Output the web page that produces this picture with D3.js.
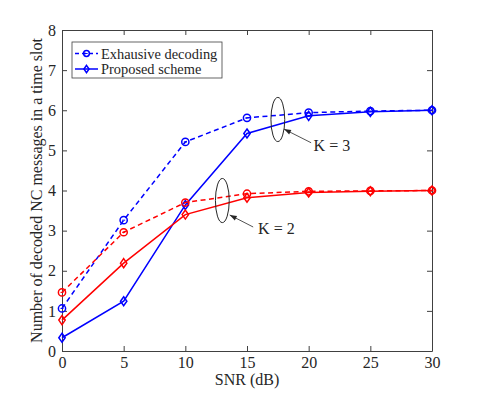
<!DOCTYPE html>
<html>
<head>
<meta charset="utf-8">
<script src="https://cdn.jsdelivr.net/npm/d3@7"></script>
<style>
  body { margin: 0; background: #fff; }
  svg text { font-family: "Liberation Serif", "Times New Roman", serif; fill: #262626; }
</style>
</head>
<body>
<div id="chart"></div>
<script>
// data
const snr = [0, 5, 10, 15, 20, 25, 30];
const exhK3 = [1.06, 3.26, 5.21, 5.81, 5.94, 5.98, 6.0];
const propK3 = [0.33, 1.24, 3.64, 5.42, 5.86, 5.96, 6.0];
const exhK2 = [1.46, 2.96, 3.70, 3.92, 3.98, 3.99, 4.0];
const propK2 = [0.77, 2.19, 3.40, 3.82, 3.95, 3.98, 4.0];
const xTicks = [0, 5, 10, 15, 20, 25, 30];
const yTicks = [0, 1, 2, 3, 4, 5, 6, 7, 8];

const width = 478, height = 395;
const margin = {top: 30, right: 46, bottom: 44, left: 62};
const fs = 16;

const svg = d3.select('#chart').append('svg')
    .attr('width', width)
    .attr('height', height);

const x = d3.scaleLinear().domain([0, 30]).range([margin.left, width - margin.right]);
const y = d3.scaleLinear().domain([0, 8]).range([height - margin.bottom, margin.top]);

const axisColor = '#404040';

// axes (ticks pointing inward, box on)
function styleAxis(g){
    g.select('.domain').attr('stroke', axisColor).attr('stroke-width', 1);
    g.selectAll('.tick line').attr('stroke', axisColor);
    g.selectAll('.tick text').attr('font-size', fs).attr('fill', '#262626')
        .style('font-family', '"Liberation Serif", serif');
}

svg.append('g')
    .attr('transform', `translate(0,${y(0)})`)
    .call(d3.axisBottom(x).tickValues(xTicks).tickSize(-5).tickPadding(6).tickSizeOuter(0))
    .call(styleAxis);
svg.append('g')
    .attr('transform', `translate(0,${y(8)})`)
    .call(d3.axisTop(x).tickValues(xTicks).tickSize(-5).tickFormat('').tickSizeOuter(0))
    .call(styleAxis);
svg.append('g')
    .attr('transform', `translate(${x(0)},0)`)
    .call(d3.axisLeft(y).tickValues(yTicks).tickSize(-5).tickPadding(6).tickSizeOuter(0))
    .call(styleAxis);
svg.append('g')
    .attr('transform', `translate(${x(30)},0)`)
    .call(d3.axisRight(y).tickValues(yTicks).tickSize(-5).tickFormat('').tickSizeOuter(0))
    .call(styleAxis);

// axis labels
svg.append('text')
    .attr('x', (x(0) + x(30)) / 2)
    .attr('y', height - 10)
    .attr('text-anchor', 'middle')
    .attr('font-size', fs)
    .text('SNR (dB)');
svg.append('text')
    .attr('transform', `translate(42,${(y(0) + y(8)) / 2}) rotate(-90)`)
    .attr('text-anchor', 'middle')
    .attr('font-size', fs)
    .text('Number of decoded NC messages in a time slot');

// series
const series = [
    {vals: exhK3, color: '#0000ff', dash: '5,3.5', marker: 'circle'},
    {vals: propK3, color: '#0000ff', dash: null, marker: 'diamond'},
    {vals: exhK2, color: '#ff0000', dash: '5,3.5', marker: 'circle'},
    {vals: propK2, color: '#ff0000', dash: null, marker: 'diamond'}
];

const line = d3.line().x(d => x(d[0])).y(d => y(d[1]));

function drawMarker(g, m, color, k = 1){
    if(m === 'circle'){
        g.append('circle').attr('r', 3.6 * k).attr('fill', 'none')
            .attr('stroke', color).attr('stroke-width', 1.5);
        g.append('line').attr('x1', -1.5 * k).attr('x2', 1.5 * k).attr('stroke', color).attr('stroke-width', 1);
    } else {
        g.append('path').attr('d', `M0,${-4.5 * k}L${3.2 * k},0L0,${4.5 * k}L${-3.2 * k},0Z`).attr('fill', 'none')
            .attr('stroke', color).attr('stroke-width', 1.5);
    }
}

series.forEach(s => {
    const pts = snr.map((v, i) => [v, s.vals[i]]);
    svg.append('path')
        .datum(pts)
        .attr('d', line)
        .attr('fill', 'none')
        .attr('stroke', s.color)
        .attr('stroke-width', 1.5)
        .attr('stroke-dasharray', s.dash);
    pts.forEach(p => {
        const g = svg.append('g').attr('transform', `translate(${x(p[0])},${y(p[1])})`);
        drawMarker(g, s.marker, s.color);
    });
});

// ellipses and annotations
const annots = [
    {cx: 17.5, cy: 5.77, rx: 0.56, ry: 0.55, tip: [18.0, 5.53], from: [20.2, 5.19], text: 'K = 3', tx: 20.4, ty: 4.98},
    {cx: 13.0, cy: 3.75, rx: 0.56, ry: 0.55, tip: [13.6, 3.39], from: [15.5, 3.09], text: 'K = 2', tx: 15.9, ty: 2.91}
];
annots.forEach(a => {
    svg.append('ellipse')
        .attr('cx', x(a.cx)).attr('cy', y(a.cy))
        .attr('rx', x(a.rx) - x(0)).attr('ry', y(0) - y(a.ry))
        .attr('fill', 'none').attr('stroke', '#262626').attr('stroke-width', 1);
    const x1 = x(a.from[0]), y1 = y(a.from[1]), x2 = x(a.tip[0]), y2 = y(a.tip[1]);
    svg.append('line')
        .attr('x1', x1).attr('y1', y1).attr('x2', x2).attr('y2', y2)
        .attr('stroke', '#262626').attr('stroke-width', 0.8);
    const ang = Math.atan2(y2 - y1, x2 - x1);
    const L = 7, W = 2.5;
    const bx = x2 - L * Math.cos(ang), by = y2 - L * Math.sin(ang);
    svg.append('path')
        .attr('d', `M${x2},${y2}L${bx + W * Math.sin(ang)},${by - W * Math.cos(ang)}L${bx - W * Math.sin(ang)},${by + W * Math.cos(ang)}Z`)
        .attr('fill', '#262626');
    svg.append('text')
        .attr('x', x(a.tx)).attr('y', y(a.ty))
        .attr('font-size', fs)
        .text(a.text);
});

// legend (font at 90% of the axes font)
const lg = svg.append('g').attr('transform', 'translate(72,42)');
lg.append('rect').attr('width', 150).attr('height', 36)
    .attr('fill', '#fff').attr('stroke', axisColor).attr('stroke-width', 0.8);
const legendItems = [
    {label: 'Exhausive decoding', dash: '4,3', marker: 'circle'},
    {label: 'Proposed scheme', dash: null, marker: 'diamond'}
];
legendItems.forEach((d, i) => {
    const yy = 11.5 + i * 15.5;
    lg.append('line').attr('x1', 3).attr('x2', 26).attr('y1', yy).attr('y2', yy)
        .attr('stroke', '#0000ff').attr('stroke-width', 1.5).attr('stroke-dasharray', d.dash);
    const g = lg.append('g').attr('transform', `translate(14.5,${yy})`);
    drawMarker(g, d.marker, '#0000ff', 0.8);
    lg.append('text').attr('x', 29).attr('y', yy + 5).attr('font-size', fs * 0.9).text(d.label);
});
</script>
</body>
</html>
